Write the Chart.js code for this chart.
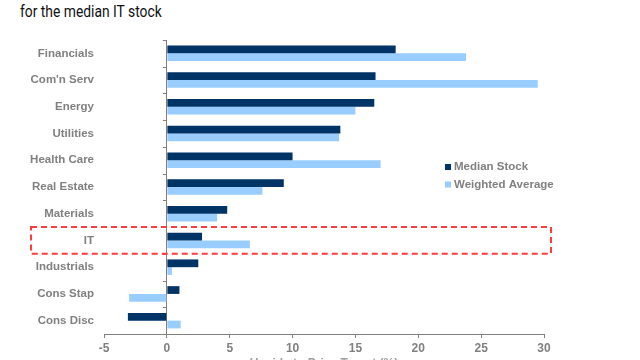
<!DOCTYPE html>
<html>
<head>
<meta charset="utf-8">
<script src="https://cdn.jsdelivr.net/npm/chart.js@4.4.1/dist/chart.umd.min.js"></script>
<style>
  body { margin: 0; width: 640px; height: 360px; overflow: hidden; background: #fff; }
  #title { position: absolute; left: 20px; top: 2px; font: 16px Roboto, sans-serif; color: #111;
    transform: scaleX(0.865); transform-origin: left top; white-space: nowrap; }
  #wrap { position: absolute; left: 0; top: 0; width: 640px; height: 371px; }
</style>
</head>
<body>
<div id="title">for the median IT stock</div>
<div id="wrap"><canvas id="chart"></canvas></div>
<script>
// sectors, top to bottom
const sectors = ["Financials", "Com'n Serv", "Energy", "Utilities", "Health Care", "Real Estate",
  "Materials", "IT", "Industrials", "Cons Stap", "Cons Disc"];
// upside to price target (%)
const medianStock = [18.2, 16.6, 16.5, 13.8, 10.0, 9.3, 4.8, 2.8, 2.5, 1.0, -3.1];
const weightedAvg = [23.8, 29.5, 15.0, 13.7, 17.0, 7.6, 4.0, 6.6, 0.4, -3.0, 1.1];
const xTicks = [-5, 0, 5, 10, 15, 20, 25, 30];
const seriesNames = ["Median Stock", "Weighted Average"];

const navy = "#003366";
const lightBlue = "#99CCFF";
const grey = "#808080";
const labelFont = { family: "'Liberation Sans', Arial, sans-serif", size: 11.5, weight: "bold" };

// zero line ticks, dashed IT box and the legend
const extras = {
  id: "extras",
  afterDraw(chart) {
    const ctx = chart.ctx;
    const x = chart.scales.x, y = chart.scales.y;
    const x0 = x.getPixelForValue(0);

    ctx.save();
    ctx.strokeStyle = grey;
    ctx.lineWidth = 1;
    for (let i = 0; i <= sectors.length; i++) {
      const py = Math.round(y.getPixelForValue(i - 0.5)) + 0.5;
      ctx.beginPath();
      ctx.moveTo(x0 - 4, py);
      ctx.lineTo(x0, py);
      ctx.stroke();
    }

    // highlight IT
    const it = sectors.indexOf("IT");
    const top = y.getPixelForValue(it - 0.5);
    const bottom = y.getPixelForValue(it + 0.5);
    ctx.strokeStyle = "#FF3B3B";
    ctx.lineWidth = 2;
    ctx.setLineDash([6, 4]);
    ctx.strokeRect(31, top, x.getPixelForValue(30) + 7 - 31, bottom - top);
    ctx.setLineDash([]);

    // legend
    const colors = [navy, lightBlue];
    ctx.font = "bold 11.5px 'Liberation Sans', Arial, sans-serif";
    ctx.textBaseline = "middle";
    seriesNames.forEach((name, i) => {
      const ly = 167 + i * 17.5;
      ctx.fillStyle = colors[i];
      ctx.fillRect(445, ly - 3, 6, 6);
      ctx.fillStyle = grey;
      ctx.fillText(name, 454, ly);
    });
    ctx.restore();
  }
};

new Chart(document.getElementById("chart"), {
  type: "bar",
  data: {
    labels: sectors,
    datasets: [
      { label: seriesNames[0], data: medianStock, backgroundColor: navy },
      { label: seriesNames[1], data: weightedAvg, backgroundColor: lightBlue }
    ]
  },
  options: {
    indexAxis: "y",
    responsive: true,
    maintainAspectRatio: false,
    animation: false,
    datasets: { bar: { categoryPercentage: 0.58, barPercentage: 1 } },
    layout: { padding: { top: 40, right: 96, left: 0, bottom: 0 } },
    plugins: { legend: { display: false }, tooltip: { enabled: false } },
    scales: {
      x: {
        min: -5, max: 30,
        afterBuildTicks: (s) => { s.ticks = xTicks.map(v => ({ value: v })); },
        afterFit: (s) => { s.height = 37; },
        border: { display: true, color: grey },
        grid: {
          drawOnChartArea: true,
          color: (c) => (c.tick && c.tick.value === 0 ? grey : "transparent"),
          tickColor: grey,
          tickLength: 4
        },
        ticks: { color: grey, font: { family: labelFont.family, size: 12, weight: "bold" }, padding: 3, maxRotation: 0 },
        title: {
          display: true,
          text: "Upside to Price Target (%)",
          color: "#a0a0a0",
          font: { family: labelFont.family, size: 12, weight: "bold" },
          padding: { top: 0, bottom: 0 }
        }
      },
      y: {
        afterFit: (s) => { s.width = 104; },
        border: { display: false },
        grid: { display: false, drawTicks: false },
        ticks: { color: grey, font: labelFont, padding: 10 }
      }
    }
  },
  plugins: [extras]
});
</script>
</body>
</html>
